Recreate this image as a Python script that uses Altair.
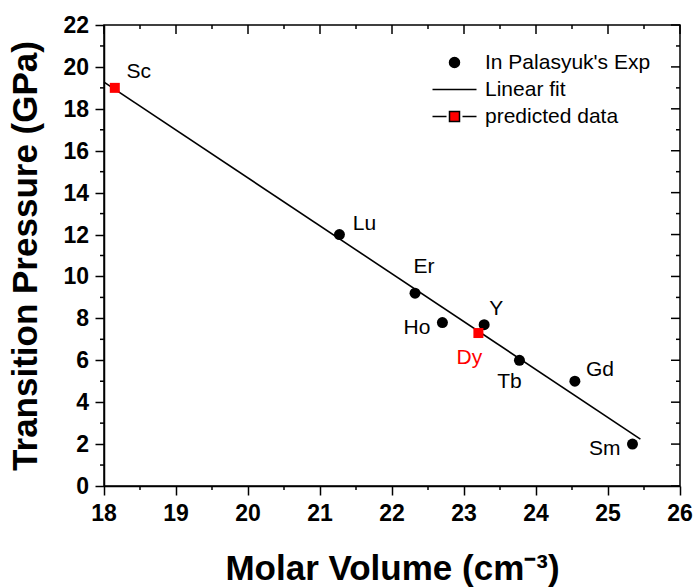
import altair as alt
import pandas as pd

# ---- data ----
exp_names = ["Lu", "Er", "Ho", "Y", "Tb", "Gd", "Sm"]
exp_volume = [21.27, 22.32, 22.70, 23.28, 23.77, 24.54, 25.34]
exp_pressure = [12.0, 9.2, 7.8, 7.7, 6.0, 5.0, 2.0]

pred_names = ["Sc", "Dy"]
pred_volume = [18.15, 23.20]
pred_pressure = [19.0, 7.3]

fit_volume = [18.0, 25.45]
fit_pressure = [19.27, 2.24]

legend_names = ["In Palasyuk's Exp", "Linear fit", "predicted data"]

x_major = list(range(18, 27))
x_minor = [v + 0.5 for v in range(18, 26)]
y_major = list(range(0, 23, 2))
y_minor = list(range(1, 22, 2))

exp_df = pd.DataFrame({"name": exp_names, "vol": exp_volume, "p": exp_pressure})
pred_df = pd.DataFrame({"name": pred_names, "vol": pred_volume, "p": pred_pressure})
fit_df = pd.DataFrame({"vol": fit_volume, "p": fit_pressure})
all_df = pd.concat([exp_df, pred_df], ignore_index=True)
leg_df = pd.DataFrame({"series": legend_names, "vol": [None] * 3, "p": [None] * 3})

FONT = "Liberation Sans"
W, H = 576, 461
X0, X1, Y0, Y1 = 18, 26, 0, 22
xs = alt.Scale(domain=[X0, X1], nice=False, zero=False)
ys = alt.Scale(domain=[Y0, Y1], nice=False, zero=False)
PX = (X1 - X0) / W   # data units per pixel, x
PY = (Y1 - Y0) / H   # data units per pixel, y

exp_pts = alt.Chart(exp_df).mark_point(filled=True, shape="circle", size=121,
                                       color="black", opacity=1).encode(
    x=alt.X("vol:Q", scale=xs, axis=alt.Axis(values=x_major, labels=False,
                                              title="Molar Volume (cm⁻³)",
                                              titlePadding=56)),
    y=alt.Y("p:Q", scale=ys, axis=alt.Axis(values=y_major, labels=False,
                                            title="Transition Pressure (GPa)",
                                            titlePadding=51)),
)

fit_line = alt.Chart(fit_df).mark_line(color="black", strokeWidth=1.6).encode(
    x=alt.X("vol:Q", scale=xs), y=alt.Y("p:Q", scale=ys),
)

pred_pts = alt.Chart(pred_df).mark_point(filled=True, shape="square", size=100,
                                         color="red", opacity=1).encode(
    x=alt.X("vol:Q", scale=xs), y=alt.Y("p:Q", scale=ys),
)


# tick segments (minor ticks outside bottom/left, mirrored ticks inside top/right)
def xseg(values, at, length_px):
    rows = []
    for v in values:
        rows += [{"t": v, "vol": v, "p": at}, {"t": v, "vol": v, "p": at + length_px * PY}]
    return pd.DataFrame(rows)


def yseg(values, at, length_px):
    rows = []
    for v in values:
        rows += [{"t": v, "p": v, "vol": at}, {"t": v, "p": v, "vol": at + length_px * PX}]
    return pd.DataFrame(rows)


seg_df = pd.concat([
    xseg(x_minor, Y0, -4).assign(g="bm"),
    xseg(x_major, Y1, -9).assign(g="tM"),
    xseg(x_minor, Y1, -4).assign(g="tm"),
    yseg(y_minor, X0, -4).assign(g="lm"),
    yseg(y_major, X1, -9).assign(g="rM"),
    yseg(y_minor, X1, -4).assign(g="rm"),
], ignore_index=True)
seg_df["key"] = seg_df["g"] + seg_df["t"].astype(str)

tick_layer = alt.Chart(seg_df).mark_line(color="black", strokeWidth=1.5).encode(
    x=alt.X("vol:Q", scale=xs), y=alt.Y("p:Q", scale=ys),
    detail="key:N",
)

xmaj_df = pd.DataFrame({"vol": x_major})
ymaj_df = pd.DataFrame({"p": y_major})

xlab = alt.Chart(xmaj_df).mark_text(font=FONT, fontSize=23, fontWeight="bold",
                                    color="black", baseline="alphabetic",
                                    align="center").encode(
    x=alt.X("vol:Q", scale=xs), y=alt.value(H + 35),
    text=alt.Text("vol:Q", format="d"))

ylab = alt.Chart(ymaj_df).mark_text(font=FONT, fontSize=23, fontWeight="bold",
                                    color="black", baseline="middle",
                                    align="right", dy=1).encode(
    y=alt.Y("p:Q", scale=ys), x=alt.value(-15),
    text=alt.Text("p:Q", format="d"))

leg = alt.Legend(orient="none", legendX=340, legendY=27, title=None,
                 labelFont=FONT, labelFontSize=21, labelColor="black",
                 labelLimit=400, symbolSize=100, symbolStrokeWidth=1.5,
                 labelOffset=20, rowPadding=5, symbolOpacity=1)

legend_layer = alt.Chart(leg_df).mark_point(filled=True, opacity=1).encode(
    x=alt.X("vol:Q", scale=xs), y=alt.Y("p:Q", scale=ys),
    shape=alt.Shape("series:N", scale=alt.Scale(
        domain=legend_names,
        range=["circle", "M-4.4,0H4.4",
               "M-4.4,0H-1.6M1.6,0H4.4M-1,-1H1V1H-1Z"]), legend=leg),
    fill=alt.Fill("series:N", scale=alt.Scale(domain=legend_names,
                                              range=["black", "black", "red"]),
                  legend=leg),
    stroke=alt.Stroke("series:N", scale=alt.Scale(domain=legend_names,
                                                  range=["black", "black", "black"]),
                      legend=leg),
)


def labels(names, dx, dy, color="black", align="center"):
    return alt.Chart(all_df).transform_filter(
        alt.FieldOneOfPredicate(field="name", oneOf=names)
    ).mark_text(font=FONT, fontSize=21, color=color, dx=dx, dy=dy,
                align=align, baseline="middle").encode(
        x=alt.X("vol:Q", scale=xs),
        y=alt.Y("p:Q", scale=ys),
        text="name:N",
    )


text_layers = [
    labels(["Lu", "Gd"], 25, -11),
    labels(["Sc"], 24, -16),
    labels(["Er"], 9, -26),
    labels(["Y"], 12, -16),
    labels(["Ho", "Sm"], -12, 5, align="right"),
    labels(["Tb"], -10, 22),
    labels(["Dy"], -9, 25, color="red"),
]

chart = alt.layer(exp_pts, fit_line, pred_pts, legend_layer, tick_layer,
                  xlab, ylab, *text_layers
).properties(
    width=W, height=H,
    autosize=alt.AutoSizeParams(type="none"),
    padding={"left": 104, "top": 25, "right": 16, "bottom": 101},
    background="white",
).configure_view(stroke="black", strokeWidth=1.5
).configure_axis(
    grid=False, domain=True, domainColor="black", domainWidth=1.5,
    tickColor="black", tickWidth=1.5, tickSize=9,
    titleFont=FONT, titleFontWeight="bold", titleFontSize=35, titleColor="black",
)

chart.save("out.html", embed_options={"renderer": "svg", "actions": False})
